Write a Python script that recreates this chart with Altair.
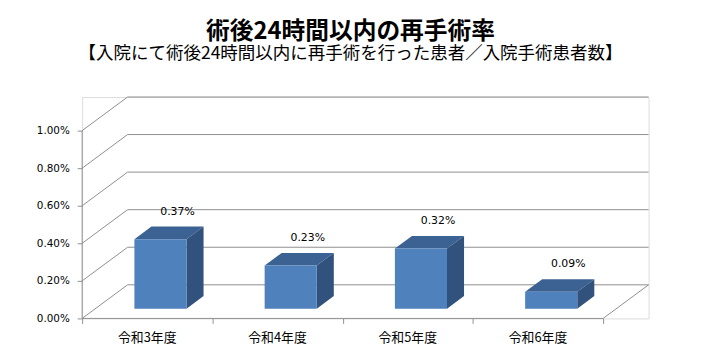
import altair as alt
import pandas as pd

# ---- data ----
categories = ["令和3年度", "令和4年度", "令和5年度", "令和6年度"]
rates = [0.0037, 0.0023, 0.0032, 0.0009]
y_ticks = [0.0, 0.002, 0.004, 0.006, 0.008, 0.010]
title_main = "術後24時間以内の再手術率"
title_sub = "【入院にて術後24時間以内に再手術を行った患者／入院手術患者数】"

# ---- 3D style constants (in data units of the scales) ----
N = len(categories)
DX = 0.349          # depth of the box along x (category units)
DY = 0.00179        # depth of the box along y (rate units)
Y_TOP = 0.010
BAR_W = 0.40        # bar face width (category units)
F0 = 0.29           # bar front position within depth
FD = 0.375          # bar depth fraction

FRONT = "#4F81BD"
TOPC = "#3C6293"
SIDE = "#30527D"
GRID = "#8F8F8F"
FONT = "DejaVu Sans"
CJK = "Noto Sans CJK JP"

xs = alt.Scale(domain=[0, N + DX], nice=False, zero=False)
ys = alt.Scale(domain=[0, Y_TOP + DY], nice=False, zero=False)

ax_x = alt.Axis(values=list(range(N + 1)), labels=False, domain=False,
                grid=False, tickSize=5, tickColor=GRID, title=None)
ax_y = alt.Axis(values=y_ticks, format=".2%", domain=False, grid=False,
                tickSize=5, tickColor=GRID, labelPadding=8, title=None,
                labelFont=FONT, labelFontSize=10.5, labelColor="#000000")


def X(field):
    return alt.X(field, scale=xs, axis=ax_x)


def Y(field):
    return alt.Y(field, scale=ys, axis=ax_y)


# ---- tables built from the arrays ----
bars = pd.DataFrame({"cat": categories, "rate": rates, "i": range(N)})
bars["xl"] = bars["i"] + 0.5 - BAR_W / 2 + F0 * DX
bars["xr"] = bars["i"] + 0.5 + BAR_W / 2 + F0 * DX
bars["yb"] = F0 * DY
bars["yt"] = bars["rate"] + F0 * DY
bars["lx"] = bars["i"] + 0.5 + (F0 + FD) * DX
bars["ly"] = bars["yt"] + FD * DY

top_rows, side_rows = [], []
for rec in bars.to_dict("records"):
    for k in (0, 1):
        top_rows.append({"cat": rec["cat"], "y": rec["yt"] + k * FD * DY,
                         "x0": rec["xl"] + k * FD * DX, "x1": rec["xr"] + k * FD * DX})
        side_rows.append({"cat": rec["cat"], "x": rec["xr"] + k * FD * DX,
                          "y0": rec["yb"] + k * FD * DY, "y1": rec["yt"] + k * FD * DY})
top_df = pd.DataFrame(top_rows)
side_df = pd.DataFrame(side_rows)

grid = pd.DataFrame({"v": y_ticks})
grid["vb"] = grid["v"] + DY
grid["x0"] = 0.0
grid["xb"] = DX
grid["xe"] = N + DX

edges = pd.DataFrame({
    "x": [0.0, float(N)],
    "x2": [float(N), N + DX],
    "y": [0.0, 0.0],
    "y2": [0.0, DY],
})
vaxis = pd.DataFrame({"x": [0.0], "y": [0.0], "y2": [Y_TOP]})

cat_df = pd.DataFrame({"cat": categories, "cx": [i + 0.5 for i in range(N)], "y": 0.0})

# ---- layers ----
wall_diag = alt.Chart(grid).mark_rule(color=GRID, strokeWidth=1).encode(
    x=X("x0:Q"), x2="xb:Q", y=Y("v:Q"), y2="vb:Q",
)
back_lines = alt.Chart(grid).mark_rule(color=GRID, strokeWidth=1).encode(
    x=X("xb:Q"), x2="xe:Q", y=Y("vb:Q"),
)
edge_lines = alt.Chart(edges).mark_rule(color=GRID, strokeWidth=1).encode(
    x=X("x:Q"), x2="x2:Q", y=Y("y:Q"), y2="y2:Q",
)
v_line = alt.Chart(vaxis).mark_rule(color=GRID, strokeWidth=1).encode(
    x=X("x:Q"), y=Y("y:Q"), y2="y2:Q",
)

top_face = alt.Chart(top_df).mark_area(orient="horizontal", color=TOPC).encode(
    y=Y("y:Q"), x=X("x0:Q"), x2="x1:Q", detail="cat:N",
)
side_face = alt.Chart(side_df).mark_area(orient="vertical", color=SIDE).encode(
    x=X("x:Q"), y=Y("y0:Q"), y2="y1:Q", detail="cat:N",
)
front_face = alt.Chart(bars).mark_rect(color=FRONT).encode(
    x=X("xl:Q"), x2="xr:Q", y=Y("yb:Q"), y2="yt:Q",
)
value_labels = alt.Chart(bars).mark_text(
    font=FONT, fontSize=11, color="#000000", baseline="middle", dy=-15
).encode(
    x=X("lx:Q"), y=Y("ly:Q"),
    text=alt.Text("rate:Q", format=".2%"),
)
cat_labels = alt.Chart(cat_df).mark_text(
    font=CJK, fontSize=13, color="#000000", baseline="middle", dy=20
).encode(
    x=X("cx:Q"), y=Y("y:Q"), text="cat:N",
)

chart = alt.layer(
    wall_diag, back_lines, edge_lines, v_line,
    top_face, side_face, front_face, value_labels, cat_labels,
).properties(
    width=573, height=224,
    padding={"left": 75, "top": 88, "right": 52, "bottom": 38},
    autosize=alt.AutoSizeParams(type="none"),
    title=alt.TitleParams(
        text=title_main, subtitle=title_sub,
        font=CJK, fontSize=24, fontWeight="bold", color="#000000",
        subtitleFont=CJK, subtitleFontSize=17.7, subtitleColor="#000000",
        subtitleFontWeight="normal", subtitlePadding=1,
        anchor="middle", frame="group", dx=-15, offset=34,
    ),
).configure_view(stroke=None).configure(background="#ffffff")

chart.save("out.html", embed_options={"renderer": "svg", "actions": False})
